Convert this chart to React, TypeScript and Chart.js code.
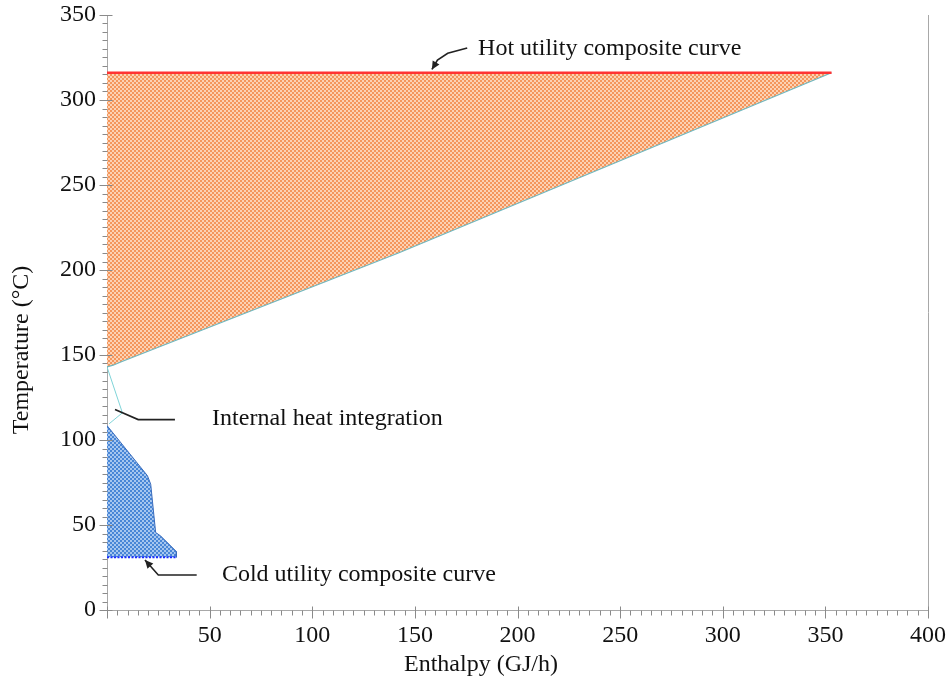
import React, { useEffect, useRef } from 'react';
import { Chart, registerables } from 'chart.js';

Chart.register(...registerables);

// ---- data (enthalpy GJ/h, temperature °C) ----
const hotUtilityH = [0, 353];
const hotUtilityT = [316, 316];
const hotCompositeH = [0, 3, 7, 142, 353];
const hotCompositeT = [143, 144, 146, 210, 316];
const internalH = [0, 7.5, 1];
const internalT = [143, 116, 109.5];
const coldCompositeH = [0, 19.7, 21.3, 23.7, 26.1, 33.8, 33.8];
const coldCompositeT = [108.5, 79, 74, 45.6, 43.6, 34.4, 31];
const coldUtilityH = [0, 33.8];
const coldUtilityT = [31, 31];

const xTickValues = [0, 50, 100, 150, 200, 250, 300, 350, 400];
const yTickValues = [0, 50, 100, 150, 200, 250, 300, 350];

// annotation labels and leader lines (data coordinates)
const annotationTexts = ['Hot utility composite curve', 'Internal heat integration', 'Cold utility composite curve'];
const annotationH = [180.8, 51.2, 56];
const annotationT = [330, 112.6, 20.6];
const hotLeaderH = [175.5, 166, 161, 158.3];
const hotLeaderT = [330.6, 327.5, 323.5, 318];
const internalLeaderH = [33.1, 15.2, 3.9];
const internalLeaderT = [112, 112, 118];
const coldLeaderH = [43.7, 25, 18.5];
const coldLeaderT = [20.6, 20.6, 29.4];

const SERIF = '"Liberation Serif", "DejaVu Serif", serif';

function zip(h: number[], t: number[]) {
  return h.map((x, i) => ({ x, y: t[i] }));
}

function makePattern(dark: string, light: string) {
  const c = document.createElement('canvas');
  c.width = 4;
  c.height = 4;
  const g = c.getContext('2d')!;
  g.fillStyle = light;
  g.fillRect(0, 0, 4, 4);
  g.fillStyle = dark;
  g.fillRect(0, 0, 2, 2);
  g.fillRect(2, 2, 2, 2);
  return g.createPattern(c, 'repeat')!;
}

const decorPlugin = {
  id: 'decor',
  afterDraw(chart: any) {
    const { ctx, chartArea, scales } = chart;
    const xs = scales.x;
    const ys = scales.y;
    ctx.save();
    // right frame line
    ctx.strokeStyle = '#a8a8a8';
    ctx.lineWidth = 1;
    ctx.beginPath();
    ctx.moveTo(Math.round(chartArea.right) + 0.5, chartArea.top);
    ctx.lineTo(Math.round(chartArea.right) + 0.5, chartArea.bottom);
    ctx.stroke();
    // ticks
    ctx.strokeStyle = '#8a8a8a';
    const ax = Math.round(chartArea.left) + 0.5;
    const ay = Math.round(chartArea.bottom) + 0.5;
    for (let v = 0; v <= 350; v += 5) {
      const py = Math.round(ys.getPixelForValue(v)) + 0.5;
      const major = v % 50 === 0;
      ctx.beginPath();
      ctx.moveTo(ax - (major ? 8 : 5), py);
      ctx.lineTo(ax + (major ? 5 : 0), py);
      ctx.stroke();
    }
    for (let v = 0; v <= 400; v += 5) {
      const px = Math.round(xs.getPixelForValue(v)) + 0.5;
      const major = v % 50 === 0;
      ctx.beginPath();
      ctx.moveTo(px, ay - (major ? 4 : 0));
      ctx.lineTo(px, ay + (major ? 8 : 5));
      ctx.stroke();
    }
    // leader lines
    const drawLeader = (h: number[], t: number[], arrow: boolean) => {
      ctx.strokeStyle = '#222';
      ctx.lineWidth = 1.6;
      ctx.beginPath();
      h.forEach((x, i) => {
        const px = xs.getPixelForValue(x);
        const py = ys.getPixelForValue(t[i]);
        if (i === 0) ctx.moveTo(px, py);
        else ctx.lineTo(px, py);
      });
      ctx.stroke();
      if (arrow) {
        const n = h.length;
        const x1 = xs.getPixelForValue(h[n - 2]);
        const y1 = ys.getPixelForValue(t[n - 2]);
        const x2 = xs.getPixelForValue(h[n - 1]);
        const y2 = ys.getPixelForValue(t[n - 1]);
        const a = Math.atan2(y2 - y1, x2 - x1);
        const L = 9;
        const w = 0.45;
        ctx.fillStyle = '#222';
        ctx.beginPath();
        ctx.moveTo(x2, y2);
        ctx.lineTo(x2 - L * Math.cos(a - w), y2 - L * Math.sin(a - w));
        ctx.lineTo(x2 - L * Math.cos(a + w), y2 - L * Math.sin(a + w));
        ctx.closePath();
        ctx.fill();
      }
    };
    drawLeader(hotLeaderH, hotLeaderT, true);
    drawLeader(internalLeaderH, internalLeaderT, false);
    drawLeader(coldLeaderH, coldLeaderT, true);
    // annotation texts
    ctx.fillStyle = '#111';
    ctx.font = '24px ' + SERIF;
    ctx.textBaseline = 'middle';
    ctx.textAlign = 'left';
    annotationTexts.forEach((s, i) => {
      ctx.fillText(s, xs.getPixelForValue(annotationH[i]), ys.getPixelForValue(annotationT[i]));
    });
    // axis titles
    ctx.textAlign = 'center';
    ctx.fillText('Enthalpy (GJ/h)', 481, 665);
    ctx.translate(22, 350);
    ctx.rotate(-Math.PI / 2);
    ctx.fillText('Temperature (°C)', 0, 0);
    ctx.restore();
  },
};

export default function App() {
  const ref = useRef<HTMLCanvasElement | null>(null);
  useEffect(() => {
    const canvas = ref.current!;
    const orange = makePattern('#f4965c', '#fcd2b4');
    const blue = makePattern('#4886d6', '#a6c6ef');
    const chart = new Chart(canvas, {
      type: 'scatter',
      data: {
        datasets: [
          {
            data: zip(hotUtilityH, hotUtilityT),
            showLine: true,
            borderColor: '#ff3333',
            borderWidth: 2.5,
            pointRadius: 0,
            fill: false,
          },
          {
            data: zip(coldUtilityH, coldUtilityT),
            showLine: true,
            borderColor: '#1a2cff',
            borderWidth: 2,
            borderDash: [2, 1.5],
            pointRadius: 0,
            fill: false,
          },
          {
            data: zip(hotCompositeH, hotCompositeT),
            showLine: true,
            borderColor: '#6fb8c0',
            borderWidth: 1.2,
            pointRadius: 0,
            fill: false,
          },
          {
            data: zip(internalH, internalT),
            showLine: true,
            borderColor: '#7fd4d8',
            borderWidth: 1,
            pointRadius: 0,
            fill: false,
          },
          {
            data: zip(coldCompositeH, coldCompositeT),
            showLine: true,
            borderColor: '#3a6cbc',
            borderWidth: 1,
            pointRadius: 0,
            fill: false,
          },
          {
            data: [...zip(hotUtilityH, hotUtilityT), ...zip(hotCompositeH, hotCompositeT).reverse()],
            showLine: true,
            borderWidth: 0,
            borderColor: 'rgba(0,0,0,0)',
            backgroundColor: orange,
            pointRadius: 0,
            fill: 'shape',
          },
          {
            data: [...zip(coldCompositeH, coldCompositeT), { x: coldUtilityH[0], y: coldUtilityT[0] }],
            showLine: true,
            borderWidth: 0,
            borderColor: 'rgba(0,0,0,0)',
            backgroundColor: blue,
            pointRadius: 0,
            fill: 'shape',
          },
        ],
      },
      options: {
        responsive: false,
        animation: false,
        layout: { padding: { left: 0, right: 19, top: 15, bottom: 0 } },
        plugins: { legend: { display: false }, tooltip: { enabled: false } },
        scales: {
          x: {
            type: 'linear',
            min: 0,
            max: 400,
            afterFit: (s: any) => {
              s.height = 78;
              s.paddingLeft = 0;
              s.paddingRight = 0;
            },
            afterBuildTicks: (s: any) => {
              s.ticks = xTickValues.map((v) => ({ value: v }));
            },
            grid: { display: false, drawTicks: false },
            border: { display: true, color: '#a8a8a8' },
            ticks: {
              padding: 11,
              color: '#111',
              font: { family: SERIF, size: 24 },
              callback: (v: any) => (v === 0 ? '' : String(v)),
              maxRotation: 0,
            },
          },
          y: {
            type: 'linear',
            min: 0,
            max: 350,
            afterFit: (s: any) => {
              s.width = 107;
              s.paddingTop = 0;
              s.paddingBottom = 0;
            },
            afterBuildTicks: (s: any) => {
              s.ticks = yTickValues.map((v) => ({ value: v }));
            },
            grid: { display: false, drawTicks: false },
            border: { display: true, color: '#a8a8a8' },
            ticks: {
              padding: 11,
              color: '#111',
              font: { family: SERIF, size: 24 },
            },
          },
        },
      },
      plugins: [decorPlugin],
    });
    return () => chart.destroy();
  }, []);
  return (
    <div style={{ position: 'fixed', left: 0, top: 0, width: 947, height: 688, background: '#fff' }}>
      <canvas ref={ref} width={947} height={688} style={{ width: 947, height: 688, display: 'block' }} />
    </div>
  );
}
